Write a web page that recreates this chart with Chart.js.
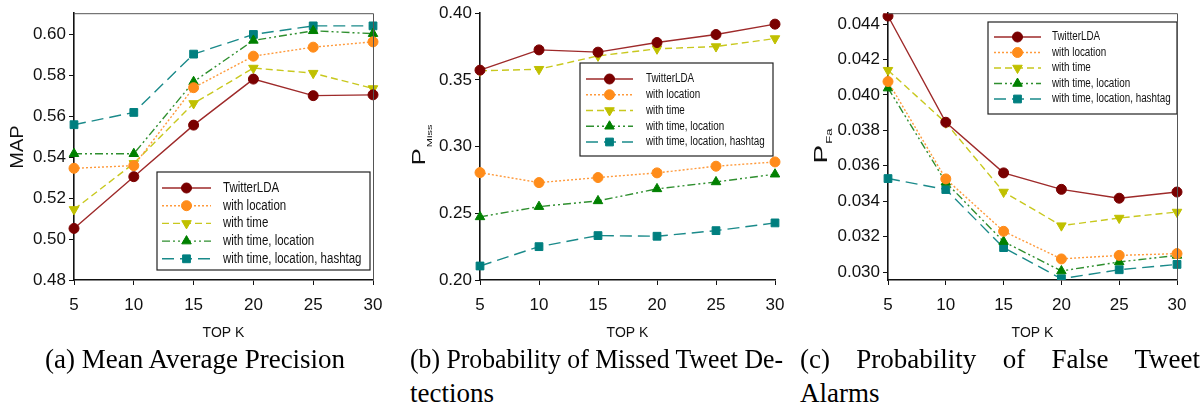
<!DOCTYPE html>
<html>
<head>
<meta charset="utf-8">
<script src="https://cdn.jsdelivr.net/npm/chart.js@4.4.1/dist/chart.umd.min.js"></script>
<style>
  body { margin: 0; background: #fff; width: 1204px; height: 407px; overflow: hidden; position: relative; }
  canvas { position: absolute; top: 0; }
  .cap { position: absolute; font-family: "Liberation Serif", serif; font-size: 27px; line-height: 34px; color: #000; white-space: nowrap; transform-origin: 0 50%; }
</style>
</head>
<body>
<canvas id="mapChart" width="400" height="345" style="left:0px"></canvas>
<canvas id="missChart" width="400" height="345" style="left:400px"></canvas>
<canvas id="faChart" width="404" height="345" style="left:800px"></canvas>

<div class="cap" style="left:45px; top:342px;">(a) Mean Average Precision</div>
<div class="cap fit" data-width="373" style="left:410px; top:342px;">(b) Probability of Missed Tweet De-</div>
<div class="cap" style="left:410px; top:376px;">tections</div>
<div class="cap fit" data-width="400" style="left:800px; top:342px;">(c) Probability of False Tweet</div>
<div class="cap" style="left:800px; top:376px;">Alarms</div>

<script>
const topK = ['5', '10', '15', '20', '25', '30'];
const seriesNames = ['TwitterLDA', 'with location', 'with time', 'with time, location', 'with time, location, hashtag'];

// (a) MAP
const mapTwitterLDA = [0.5052, 0.5305, 0.5557, 0.5782, 0.5701, 0.5705];
const mapLocation = [0.5346, 0.5359, 0.5740, 0.5894, 0.5938, 0.5964];
const mapTime = [0.5145, 0.5370, 0.5663, 0.5836, 0.5811, 0.5736];
const mapTimeLoc = [0.5417, 0.5417, 0.5769, 0.5971, 0.6018, 0.6004];
const mapHashtag = [0.5559, 0.5619, 0.5904, 0.6000, 0.6042, 0.6042];
const mapTicks = [0.48, 0.50, 0.52, 0.54, 0.56, 0.58, 0.60];

// (b) P_Miss
const missTwitterLDA = [0.3573, 0.3725, 0.3708, 0.3780, 0.3840, 0.3918];
const missLocation = [0.2805, 0.2730, 0.2768, 0.2803, 0.2853, 0.2885];
const missTime = [0.3568, 0.3580, 0.3680, 0.3733, 0.3750, 0.3810];
const missTimeLoc = [0.2473, 0.2550, 0.2593, 0.2683, 0.2735, 0.2793];
const missHashtag = [0.2105, 0.2250, 0.2333, 0.2328, 0.2370, 0.2428];
const missTicks = [0.20, 0.25, 0.30, 0.35, 0.40];

// (c) P_Fa
const faTwitterLDA = [0.04446, 0.03846, 0.03560, 0.03467, 0.03417, 0.03452];
const faLocation = [0.04076, 0.03526, 0.03230, 0.03074, 0.03094, 0.03104];
const faTime = [0.04140, 0.03843, 0.03452, 0.03262, 0.03305, 0.03339];
const faTimeLoc = [0.04039, 0.03507, 0.03172, 0.03006, 0.03057, 0.03094];
const faHashtag = [0.03528, 0.03466, 0.03138, 0.02962, 0.03013, 0.03043];
const faTicks = [0.030, 0.032, 0.034, 0.036, 0.038, 0.040, 0.042, 0.044];

const sansFont = '"Liberation Sans", Arial, sans-serif';

const styles = [
    { line: '#9e2a2a', point: '#7a0000', dash: [], pointStyle: 'circle', rot: 0, r: 5 },
    { line: '#ff9a3c', point: '#ff8c1a', dash: [2, 2], pointStyle: 'circle', rot: 0, r: 5 },
    { line: '#c8c81e', point: '#c0c000', dash: [7, 4], pointStyle: 'triangle', rot: 180, r: 5.5 },
    { line: '#2f8f2f', point: '#008000', dash: [8, 3, 2, 3, 2, 3], pointStyle: 'triangle', rot: 0, r: 5.5 },
    { line: '#1a8a8a', point: '#007f7f', dash: [12, 6], pointStyle: 'rect', rot: 0, r: 5.5 }
];

// captions: a too-long line is squeezed, a short one gets wider word gaps (justified look)
document.querySelectorAll('.fit').forEach(el => {
    const target = parseFloat(el.dataset.width);
    const gaps = el.textContent.split(' ').length - 1;
    const natural = el.getBoundingClientRect().width;
    if (natural > target) {
        el.style.transform = 'scaleX(' + (target / natural) + ')';
    } else {
        el.style.wordSpacing = ((target - natural) / gaps) + 'px';
    }
});

function makeDatasets(seriesList) {
    return seriesList.map((values, i) => ({
        label: seriesNames[i],
        data: values,
        borderColor: styles[i].line,
        borderWidth: 1.4,
        borderDash: styles[i].dash,
        pointStyle: styles[i].pointStyle,
        pointRotation: styles[i].rot,
        pointRadius: styles[i].r,
        pointBackgroundColor: styles[i].point,
        pointBorderColor: styles[i].point,
        pointBorderWidth: 1,
        tension: 0,
        fill: false
    }));
}

// legend drawn inside the plot, with a box
const boxLegend = {
    id: 'boxLegend',
    afterDatasetsDraw(chart, args, opts) {
        const ctx = chart.ctx;
        ctx.save();
        ctx.fillStyle = '#fff';
        ctx.fillRect(opts.x, opts.y, opts.w, opts.h);
        ctx.strokeStyle = '#222';
        ctx.lineWidth = 1.2;
        ctx.strokeRect(opts.x, opts.y, opts.w, opts.h);
        chart.data.datasets.forEach((ds, i) => {
            const y = opts.row0 + i * opts.rowGap;
            ctx.setLineDash(ds.borderDash);
            ctx.strokeStyle = ds.borderColor;
            ctx.lineWidth = ds.borderWidth;
            ctx.beginPath();
            ctx.moveTo(opts.lineX0, y);
            ctx.lineTo(opts.lineX1, y);
            ctx.stroke();
            ctx.setLineDash([]);
            ctx.fillStyle = ds.pointBackgroundColor;
            ctx.strokeStyle = ds.pointBorderColor;
            ctx.lineWidth = 1;
            Chart.helpers.drawPoint(ctx, {
                pointStyle: ds.pointStyle, rotation: ds.pointRotation,
                radius: ds.pointRadius, borderWidth: 1
            }, (opts.lineX0 + opts.lineX1) / 2, y);
            // condensed label text
            ctx.save();
            ctx.translate(opts.textX, y);
            ctx.scale(0.82, 1);
            ctx.fillStyle = '#111';
            ctx.font = opts.fontSize + 'px ' + sansFont;
            ctx.textBaseline = 'middle';
            ctx.textAlign = 'left';
            ctx.fillText(ds.label, 0, 0);
            ctx.restore();
        });
        ctx.restore();
    }
};

// top / right frame lines and the rotated y title (with subscript)
const frameAndTitle = {
    id: 'frameAndTitle',
    afterDraw(chart, args, opts) {
        const ctx = chart.ctx;
        const a = chart.chartArea;
        ctx.save();
        if (opts.frame) {
            ctx.strokeStyle = '#555';
            ctx.lineWidth = 1;
            ctx.beginPath();
            ctx.moveTo(a.left, a.top + 0.5);
            ctx.lineTo(a.right + 0.5, a.top + 0.5);
            ctx.lineTo(a.right + 0.5, a.bottom);
            ctx.stroke();
        }
        ctx.fillStyle = '#111';
        ctx.textBaseline = 'alphabetic';
        ctx.textAlign = 'left';
        ctx.font = opts.mainSize + 'px ' + sansFont;
        const wMain = ctx.measureText(opts.main).width;
        ctx.font = opts.subSize + 'px ' + sansFont;
        const wSub = opts.sub ? ctx.measureText(opts.sub).width + 1 : 0;
        const x0 = -(wMain + wSub) / 2;
        // rotated frame: +x goes up the page, +y goes right
        ctx.translate(0, opts.cy);
        ctx.rotate(-Math.PI / 2);
        ctx.scale(1, opts.squeeze);
        ctx.font = opts.mainSize + 'px ' + sansFont;
        ctx.fillText(opts.main, x0, opts.mainBase / opts.squeeze);
        if (opts.sub) {
            ctx.font = opts.subSize + 'px ' + sansFont;
            ctx.fillText(opts.sub, x0 + wMain + 1, opts.subBase / opts.squeeze);
        }
        ctx.restore();
    }
};

function makeChart(id, seriesList, tickVals, yMin, yMax, decimals, area, legend, title) {
    const ctx = document.getElementById(id).getContext('2d');
    const canvasH = 345;
    return new Chart(ctx, {
        type: 'line',
        data: { labels: topK, datasets: makeDatasets(seriesList) },
        plugins: [boxLegend, frameAndTitle],
        options: {
            responsive: false,
            animation: false,
            layout: { padding: { left: 0, top: area.top, right: area.right, bottom: 0 } },
            plugins: {
                legend: { display: false },
                tooltip: { enabled: false },
                boxLegend: legend,
                frameAndTitle: title
            },
            scales: {
                x: {
                    type: 'category',
                    offset: false,
                    grid: { drawOnChartArea: false, drawTicks: true, tickLength: 5, color: '#111' },
                    border: { display: true, color: '#111', width: 1.6 },
                    ticks: { color: '#111', padding: 10, maxRotation: 0, autoSkip: false,
                             font: { family: sansFont, size: 17 } },
                    title: { display: true, text: 'TOP K', color: '#111', padding: { top: 0, bottom: 3 },
                             font: { family: sansFont, size: 14 } },
                    afterFit: (s) => { s.height = canvasH - area.bottom; }
                },
                y: {
                    type: 'linear',
                    min: yMin,
                    max: yMax,
                    bounds: 'data',
                    grid: { drawOnChartArea: false, drawTicks: true, tickLength: 5, color: '#111' },
                    border: { display: true, color: '#111', width: 1.6 },
                    ticks: { color: '#111', padding: 3,
                             font: { family: sansFont, size: 17 },
                             callback: (v) => Number(v).toFixed(decimals) },
                    afterBuildTicks: (s) => { s.ticks = tickVals.map(v => ({ value: v })); },
                    afterFit: (s) => { s.width = area.left; }
                }
            }
        }
    });
}

makeChart('mapChart',
    [mapTwitterLDA, mapLocation, mapTime, mapTimeLoc, mapHashtag],
    mapTicks, 0.48, 0.6104, 2,
    { left: 74, top: 13, right: 27, bottom: 280 },
    { x: 157, y: 172, w: 213, h: 98, row0: 188, rowGap: 17.7, lineX0: 162, lineX1: 211, textX: 223, fontSize: 14 },
    { frame: true, cy: 147, main: 'MAP', sub: '', mainSize: 20, subSize: 10, squeeze: 0.91, mainBase: 23, subBase: 0 });

makeChart('missChart',
    [missTwitterLDA, missLocation, missTime, missTimeLoc, missHashtag],
    missTicks, 0.20, 0.40, 2,
    { left: 80, top: 13, right: 25, bottom: 280 },
    { x: 180, y: 63, w: 193, h: 93, row0: 79, rowGap: 15.75, lineX0: 186, lineX1: 233, textX: 246, fontSize: 12 },
    { frame: false, cy: 145, main: 'P', sub: 'Miss', mainSize: 26, subSize: 11, squeeze: 0.68, mainBase: 25, subBase: 32 });

makeChart('faChart',
    [faTwitterLDA, faLocation, faTime, faTimeLoc, faHashtag],
    faTicks, 0.02955, 0.04462, 3,
    { left: 88, top: 13, right: 27, bottom: 280 },
    { x: 188, y: 22, w: 189, h: 92, row0: 37, rowGap: 15.5, lineX0: 194, lineX1: 241, textX: 252, fontSize: 12 },
    { frame: true, cy: 146, main: 'P', sub: 'Fa', mainSize: 28, subSize: 13, squeeze: 0.66, mainBase: 27, subBase: 32 });
</script>
</body>
</html>
